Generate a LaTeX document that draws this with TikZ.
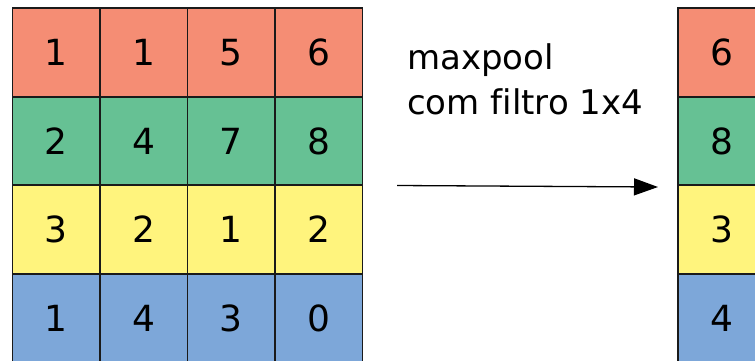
\documentclass[tikz,border=0pt]{standalone}
\usepackage{fontspec}
\setmainfont{DejaVu Sans}[Ligatures=NoCommon]
\usetikzlibrary{arrows.meta}
\definecolor{cred}{HTML}{F58D74}
\definecolor{cgreen}{HTML}{66C194}
\definecolor{cyellow}{HTML}{FFF47D}
\definecolor{cblue}{HTML}{7DA7D9}
\definecolor{cline}{HTML}{1A1A1A}
\begin{document}
\begin{tikzpicture}[x=1pt,y=-1pt,
  cell/.style={draw=cline,line width=1.8pt,minimum width=87.5pt,minimum height=88.6pt,inner sep=0pt,outer sep=0pt,font=\fontsize{36}{40}\selectfont,anchor=north west},
  lbl/.style={font=\fontsize{34}{45}\selectfont,align=left,anchor=base west,inner sep=0pt}]
\useasboundingbox (0,0) rectangle (755,360);
\foreach \r/\c/\a/\b/\cc/\d [count=\i from 0] in {cred/1/1/5/6/6, cgreen/2/4/7/8/8, cyellow/3/2/1/2/3, cblue/1/4/3/0/4}{
  \node[cell,fill=\r] (L\i a) at (12.5,{8+88.6*\i}) {\c};
  \node[cell,fill=\r] (L\i b) at (100,{8+88.6*\i}) {\a};
  \node[cell,fill=\r] (L\i c) at (187.5,{8+88.6*\i}) {\b};
  \node[cell,fill=\r] (L\i d) at (275,{8+88.6*\i}) {\cc};
  \node[cell,fill=\r] (R\i) at (678,{8+88.6*\i}) {\d};
}
\node[lbl] (txt) at (407,114) {maxpool\\com filtro 1x4};
\coordinate (a1) at (397,185.5);
\coordinate (a2) at (658,187);
\draw[line width=1.3pt,-{Triangle[length=24pt,width=17pt]}] (a1) -- (a2);
\end{tikzpicture}
\end{document}
